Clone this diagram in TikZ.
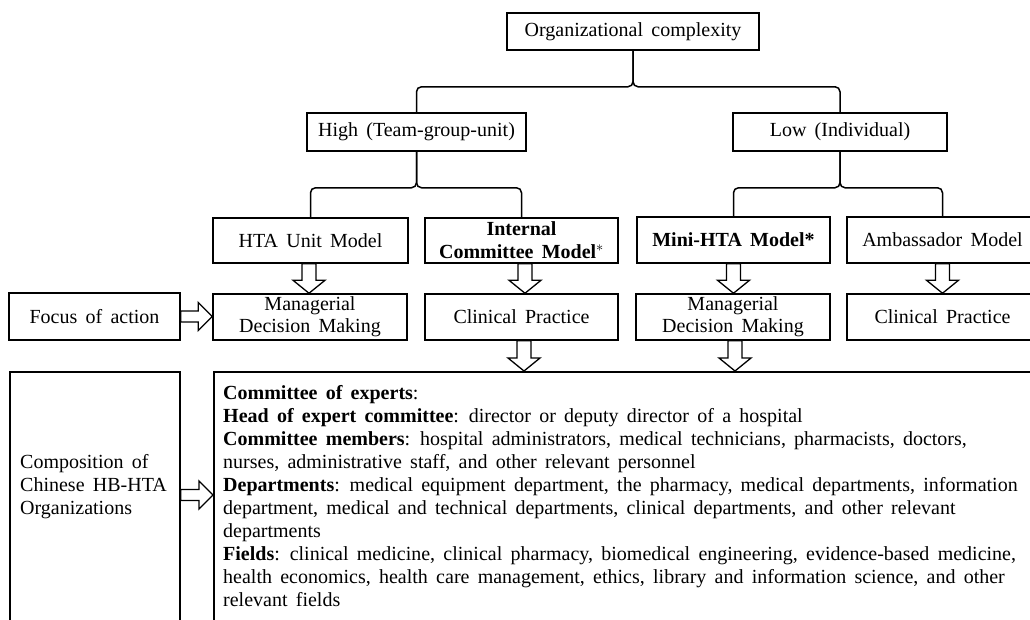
\documentclass[tikz,border=0pt]{standalone}
\usepackage{fontspec}
\setmainfont{Liberation Serif}[WordSpace=1.65]
\usetikzlibrary{calc}

\tikzset{
  txt/.style={font=\fontsize{20}{23}\selectfont},
  box/.style={draw, line width=1.5pt, inner sep=0pt, align=center, txt},
  link/.style={line width=1.5pt, rounded corners=5pt},
  blk/.style={draw, line width=1.3pt, fill=white, line join=miter},
}

% hollow block arrow pointing down, from the bottom of #2 to the top of #3
\newcommand{\blkdown}[3][0pt]{%
  \draw[blk] let \p1=($(#2.south)+(#1,0)$), \p2=(#3.north) in
    (\x1-7pt,\y1) -- (\x1-7pt,\y2+13pt) -- (\x1-16pt,\y2+13pt) -- (\x1,\y2)
    -- (\x1+16pt,\y2+13pt) -- (\x1+7pt,\y2+13pt) -- (\x1+7pt,\y1) -- cycle;
}
% hollow block arrow pointing right, from point #1 to point #2
\newcommand{\blkright}[2]{%
  \draw[blk] let \p1=(#1), \p2=(#2) in
    (\x1,\y1+5.5pt) -- (\x2-14pt,\y1+5.5pt) -- (\x2-14pt,\y1+14pt) -- (\x2,\y1)
    -- (\x2-14pt,\y1-14pt) -- (\x2-14pt,\y1-5.5pt) -- (\x1,\y1-5.5pt) -- cycle;
}

\begin{document}
\begin{tikzpicture}[x=1pt,y=-1pt]
\clip (0,0) rectangle (1030,619);
\fill[white] (0,0) rectangle (1030,619);

% top level
\node[box, minimum width=252pt, minimum height=37pt] (org) at (633,31.5) {Organizational complexity};

% complexity level
\node[box, minimum width=219pt, minimum height=38pt] (high) at (416.5,132) {High (Team-group-unit)};
\node[box, minimum width=214pt, minimum height=38pt] (low) at (840,132) {Low (Individual)};

% models
\node[box, minimum width=195pt, minimum height=45pt] (hta) at (310.5,240.5) {HTA Unit Model};
\node[box, minimum width=193pt, minimum height=45pt] (icm) at (521.5,240.5) {\textbf{Internal}\\\textbf{Committee Model}$^{*}$};
\node[box, minimum width=193pt, minimum height=46pt] (mini) at (733.5,240) {\textbf{Mini-HTA Model*}};
\node[box, minimum width=191pt, minimum height=46pt] (amb) at (942.5,240) {Ambassador Model};

% focus of action
\node[box, minimum width=171pt, minimum height=47pt] (focus) at (94.5,316.5) {Focus of action};
\node[box, minimum width=194pt, minimum height=46pt] (mdm1) at (310,317) {\raisebox{-2pt}{\shortstack{Managerial\\[1pt]Decision Making}}};
\node[box, minimum width=193pt, minimum height=46pt] (cp1) at (521.5,317) {Clinical Practice};
\node[box, minimum width=194pt, minimum height=46pt] (mdm2) at (733,317) {\raisebox{-2pt}{\shortstack{Managerial\\[1pt]Decision Making}}};
\node[box, minimum width=191pt, minimum height=46pt] (cp2) at (942.5,317) {Clinical Practice};

% composition
\node[box, minimum width=170pt, minimum height=290pt, anchor=north] (comp) at (95,371) {};
\node[txt, align=left, anchor=west, inner sep=0pt] (comptext) at (20,487) {Composition of\\Chinese HB-HTA\\Organizations};
\node[box, minimum width=840pt, minimum height=290pt, anchor=north west] (detail) at (213,371) {};
\node[txt, align=left, anchor=north west, inner sep=0pt] (detailtext) at (223,385) {%
\textbf{Committee of experts}:\\
\textbf{Head of expert committee}: director or deputy director of a hospital\\
\textbf{Committee members}: hospital administrators, medical technicians, pharmacists, doctors,\\
nurses, administrative staff, and other relevant personnel\\
\textbf{Departments}: medical equipment department, the pharmacy, medical departments, information\\
department, medical and technical departments, clinical departments, and other relevant\\
departments\\
\textbf{Fields}: clinical medicine, clinical pharmacy, biomedical engineering, evidence-based medicine,\\
health economics, health care management, ethics, library and information science, and other\\
relevant fields};

% brace-like links
\draw[link] (high.north) |- ($(org.south)+(0,36)$) -- (org.south);
\draw[link] (low.north) |- ($(org.south)+(0,36)$) -- (org.south);
\draw[link] (hta.north) |- ($(high.south)+(0,36)$) -- (high.south);
\draw[link] (icm.north) |- ($(high.south)+(0,36)$) -- (high.south);
\draw[link] (mini.north) |- ($(low.south)+(0,36)$) -- (low.south);
\draw[link] (amb.north) |- ($(low.south)+(0,36)$) -- (low.south);

% block arrows
\blkdown[-1.5pt]{hta}{mdm1}
\blkdown[3.5pt]{icm}{cp1}
\blkdown{mini}{mdm2}
\blkdown{amb}{cp2}
\blkdown[2.5pt]{cp1}{detail}
\blkdown[2pt]{mdm2}{detail}
\blkright{focus.east}{focus.east -| mdm1.west}
\blkright{$(comp.east |- comptext)+(0,8)$}{$(detail.west |- comptext)+(0,8)$}
\end{tikzpicture}
\end{document}
